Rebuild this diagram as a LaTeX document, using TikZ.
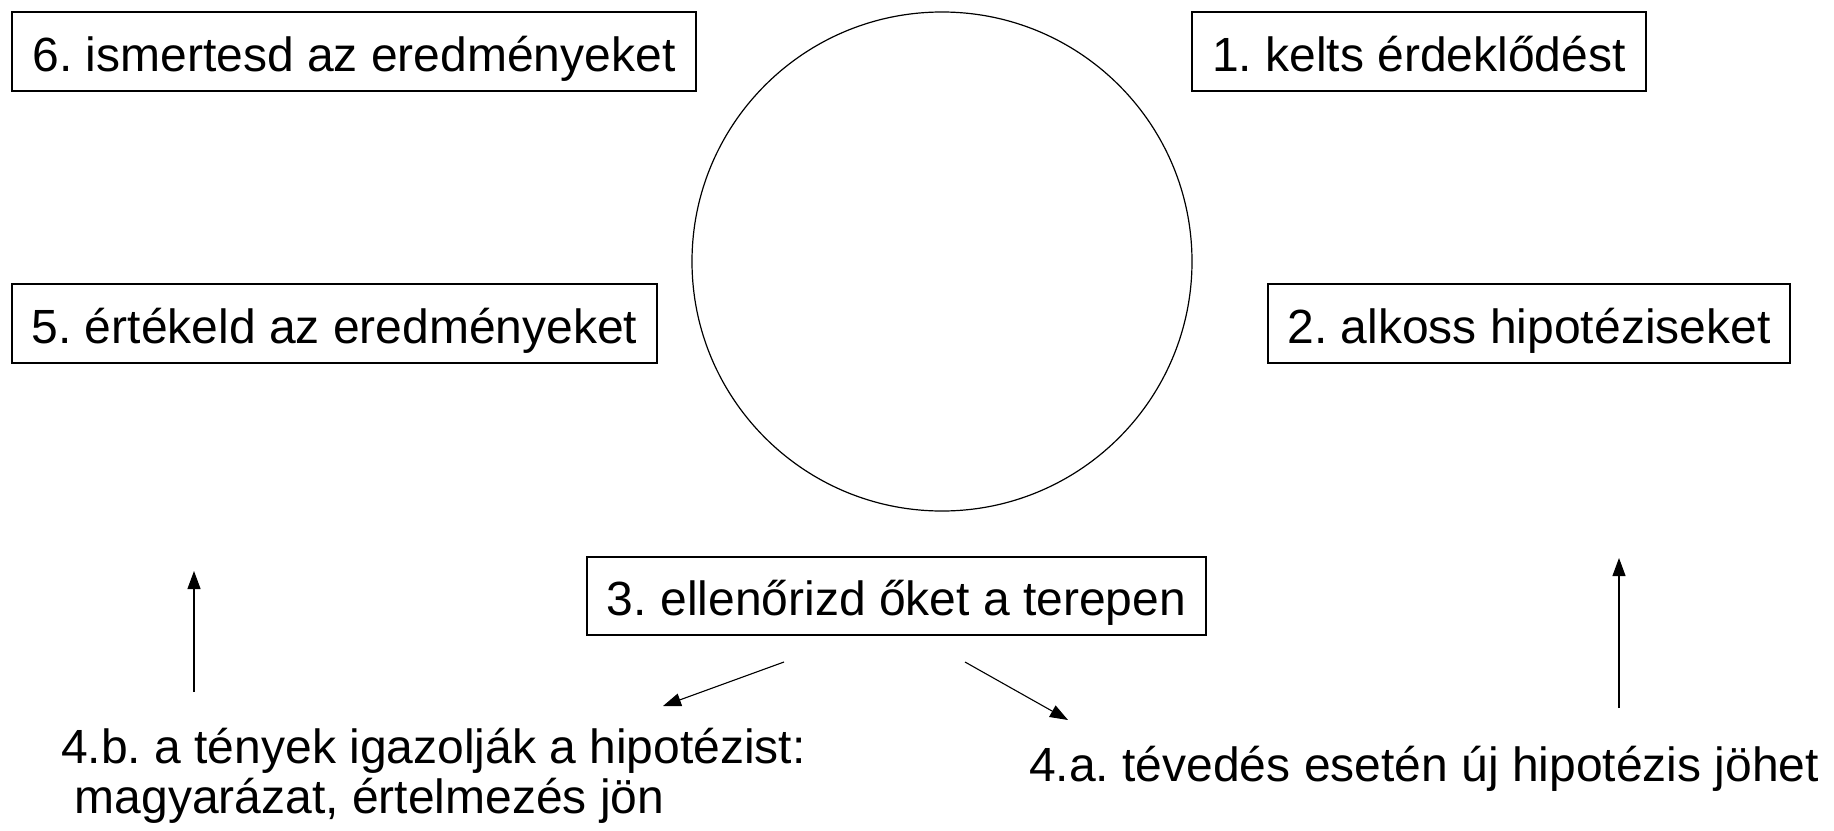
\documentclass[tikz,border=0pt]{standalone}
\usepackage{fontspec}
\setmainfont{Liberation Sans}
\usetikzlibrary{arrows.meta,shapes.geometric}
\frenchspacing
\begin{document}
\begin{tikzpicture}[x=1pt,y=-1pt,
  stepbox/.style={draw, line width=1.2pt, inner sep=0pt, minimum height=79pt, text height=39pt, text depth=0pt, font=\fontsize{48}{52}\selectfont},
  plain/.style={inner sep=0pt, font=\fontsize{48}{50}\selectfont},
  arr/.style={line width=1.1pt, -{Triangle[length=18pt,width=13pt]}}]
\useasboundingbox (0,0) rectangle (1834,830);
\node[stepbox, minimum width=684pt] (s6) at (354,51.5) {6. ismertesd az eredményeket};
\node[stepbox, minimum width=454pt] (s1) at (1419,51.5) {1. kelts érdeklődést};
\node[stepbox, minimum width=645pt] (s5) at (334.5,323.5) {5. értékeld az eredményeket};
\node[stepbox, minimum width=522pt] (s2) at (1529,323.5) {2. alkoss hipotéziseket};
\node[stepbox, minimum width=619pt, minimum height=78pt] (s3) at (896.5,596) {3. ellenőrizd őket a terepen};
\node[draw, line width=1.2pt, ellipse, minimum width=500pt, minimum height=499pt, inner sep=0pt] (c) at (942,261.5) {};
\node[plain, anchor=base west, align=left] (b4) at (61,813) {4.b. a tények igazolják a hipotézist:\\\hspace*{0.28em}magyarázat, értelmezés jön};
\node[plain, anchor=base west] (a4) at (1029,781) {4.a. tévedés esetén új hipotézis jöhet};
\coordinate (l1) at (194,692); \coordinate (l2) at (194,571);
\coordinate (r1) at (1619,708); \coordinate (r2) at (1619,558);
\coordinate (d1) at (784,662); \coordinate (d2) at (663,706);
\coordinate (e1) at (965,662); \coordinate (e2) at (1068,720);
\draw[arr] (l1) -- (l2);
\draw[arr] (r1) -- (r2);
\draw[arr] (d1) -- (d2);
\draw[arr] (e1) -- (e2);
\end{tikzpicture}
\end{document}
